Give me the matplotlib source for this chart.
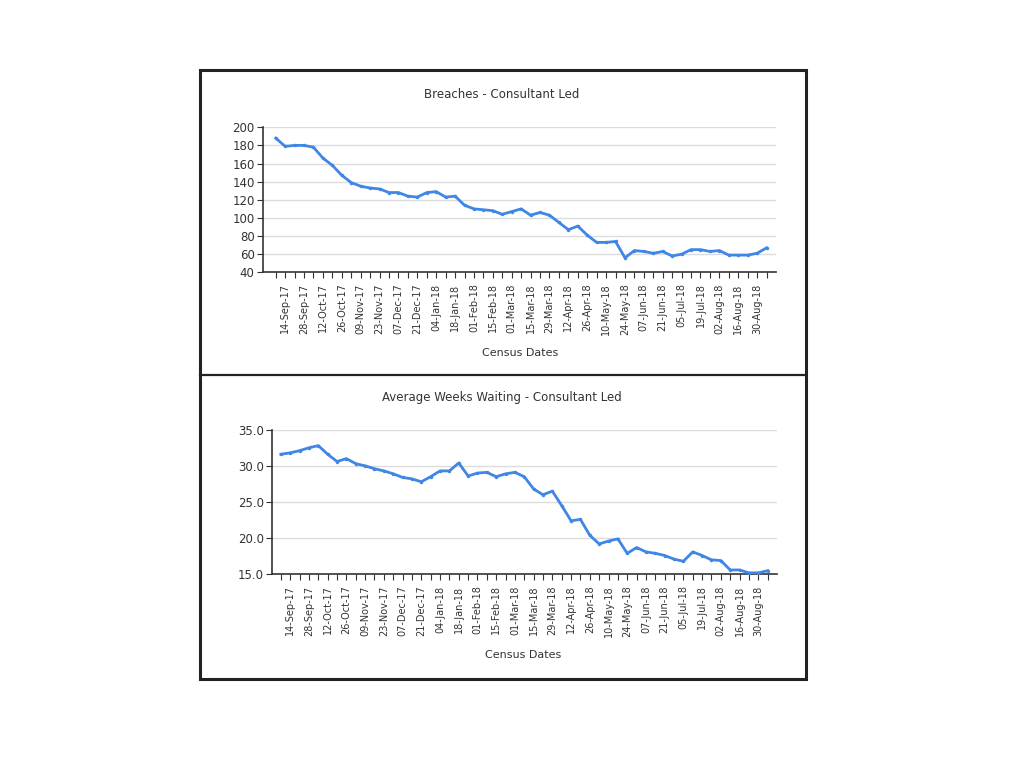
"""
Breaches / Average Weeks Waiting - Consultant Led
Two stacked line charts in one framed panel
"""

import matplotlib
matplotlib.use("Agg")
import matplotlib.pyplot as plt
from matplotlib.patches import Rectangle
from matplotlib.lines import Line2D

# Weekly census values (07-Sep-17 .. 06-Sep-18)
breaches = [188, 179, 180, 180, 178, 166, 158, 147, 139, 135,
            133, 132, 128, 128, 124, 123, 128, 129, 123, 124,
            114, 110, 109, 108, 104, 107, 110, 103, 106, 103,
            95, 87, 91, 81, 73, 73, 74, 56, 64, 63,
            61, 63, 58, 60, 65, 65, 63, 64, 59, 59,
            59, 61, 67]

avg_weeks = [31.6, 31.8, 32.1, 32.5, 32.8, 31.6, 30.6, 31.0, 30.3, 30.0,
             29.6, 29.3, 28.9, 28.4, 28.2, 27.8, 28.5, 29.3, 29.3, 30.4,
             28.6, 29.0, 29.1, 28.5, 28.9, 29.1, 28.5, 26.8, 26.0, 26.5,
             24.5, 22.4, 22.6, 20.4, 19.2, 19.6, 19.9, 17.9, 18.7, 18.1,
             17.9, 17.6, 17.1, 16.8, 18.1, 17.6, 17.0, 16.9, 15.6, 15.6,
             15.2, 15.2, 15.5]

# labels shown on every second census date (starting at the 2nd one)
date_labels = ["14-Sep-17", "28-Sep-17", "12-Oct-17", "26-Oct-17", "09-Nov-17",
               "23-Nov-17", "07-Dec-17", "21-Dec-17", "04-Jan-18", "18-Jan-18",
               "01-Feb-18", "15-Feb-18", "01-Mar-18", "15-Mar-18", "29-Mar-18",
               "12-Apr-18", "26-Apr-18", "10-May-18", "24-May-18", "07-Jun-18",
               "21-Jun-18", "05-Jul-18", "19-Jul-18", "02-Aug-18", "16-Aug-18",
               "30-Aug-18"]

LINE_COL = "#3f86e6"
TEXT_COL = "#333333"
GRID_COL = "#dcdcdc"

W, H = 1024, 768


def px(x, y):
    """pixel (from top-left) -> figure fraction"""
    return x / W, 1 - y / H


def style_axes(ax, values, ylim, yticks, yfmt, xlim):
    x = list(range(len(values)))
    ax.plot(x, values, color=LINE_COL, linewidth=2, marker="o",
            markersize=2.5, markeredgewidth=0, zorder=3)
    ax.set_xlim(*xlim)
    ax.set_ylim(*ylim)
    ax.set_yticks(yticks)
    ax.set_yticklabels([yfmt.format(v) for v in yticks], fontsize=8.5, color=TEXT_COL)
    ax.set_xticks(x)
    labels = []
    for i in x:
        labels.append(date_labels[(i - 1) // 2] if i % 2 == 1 else "")
    ax.set_xticklabels(labels, rotation=90, fontsize=7, color=TEXT_COL)
    ax.tick_params(axis="x", length=4, width=0.8, color=TEXT_COL, pad=4)
    ax.tick_params(axis="y", length=4, width=0.8, color=TEXT_COL, pad=2)
    for y in yticks[1:]:
        ax.axhline(y, color=GRID_COL, linewidth=1, zorder=1)
    for s in ("top", "right"):
        ax.spines[s].set_visible(False)
    for s in ("left", "bottom"):
        ax.spines[s].set_color(TEXT_COL)
        ax.spines[s].set_linewidth(1.2)


fig = plt.figure(figsize=(10.24, 7.68), dpi=100)
fig.patch.set_facecolor("white")

# outer frame + divider
x0, y0 = px(200, 679)
frame = Rectangle((x0, y0), 606 / W, 609 / H, transform=fig.transFigure,
                  fill=False, edgecolor="#222222", linewidth=2.2)
fig.patches.append(frame)
xa, ya = px(200, 375)
xb, _ = px(806, 375)
fig.add_artist(Line2D([xa, xb], [ya, ya], transform=fig.transFigure,
                      color="#222222", linewidth=1.6))

# top chart
l, b = px(263, 272.3)
r, t = px(776, 127.3)
ax1 = fig.add_axes([l, b, r - l, t - b])
style_axes(ax1, breaches, (40, 200), list(range(40, 201, 20)), "{:d}", (-1.35, 53.0))

# bottom chart
l, b = px(272, 574.3)
r, t = px(777, 429.7)
ax2 = fig.add_axes([l, b, r - l, t - b])
style_axes(ax2, avg_weeks, (15, 35), [15, 20, 25, 30, 35], "{:.1f}", (-0.95, 53.0))

# titles and axis captions
fig.text(*px(502, 95), "Breaches - Consultant Led", ha="center", va="center",
         fontsize=8.5, color=TEXT_COL)
fig.text(*px(520, 353), "Census Dates", ha="center", va="center",
         fontsize=8, color=TEXT_COL)
fig.text(*px(502, 397), "Average Weeks Waiting - Consultant Led", ha="center",
         va="center", fontsize=8.5, color=TEXT_COL)
fig.text(*px(523, 655), "Census Dates", ha="center", va="center",
         fontsize=8, color=TEXT_COL)

fig.savefig("out.png", dpi=100)
